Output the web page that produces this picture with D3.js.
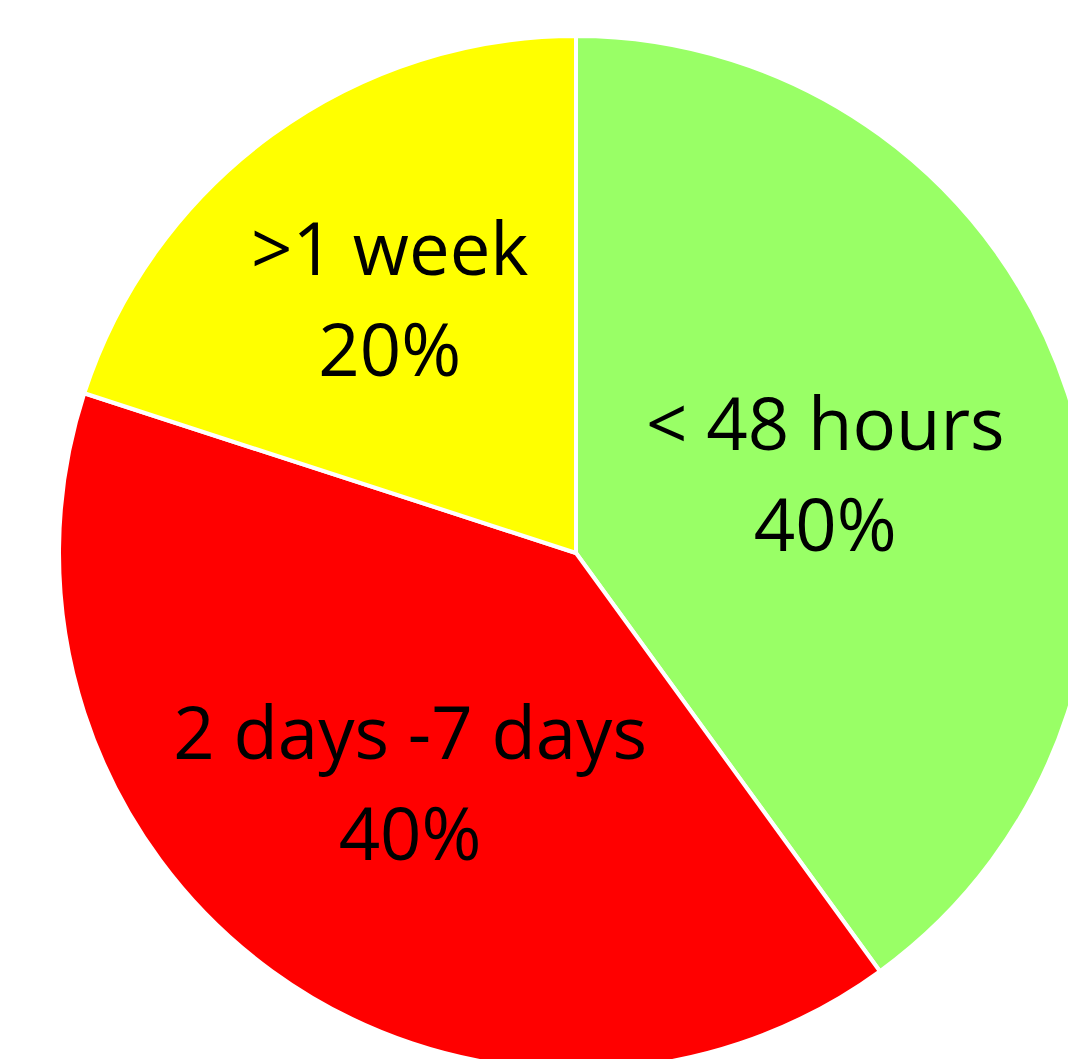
<!DOCTYPE html>
<html>
<head>
<meta charset="utf-8">
<script src="https://cdn.jsdelivr.net/npm/d3@7"></script>
<style>
  html, body { margin: 0; padding: 0; background: #fff; overflow: hidden; }
  svg { display: block; }
</style>
</head>
<body>
<div id="chart"></div>
<script>
// chart data
var categories = ["< 48 hours", "2 days -7 days", ">1 week"];
var shares = [40, 40, 20];
var colors = ["#99ff66", "#ff0000", "#ffff00"];

var svgWidth = 1068;
var svgHeight = 1059;

// pie center and radius (pie runs off the right/bottom edge)
var cx = 576, cy = 553;
var radius = 517;

// how far out each label sits (fraction of radius)
var labelFrac = [0.507, 0.546, 0.613];

var svg = d3.select("#chart")
    .append("svg")
    .attr("width", svgWidth)
    .attr("height", svgHeight);

var g = svg.append("g")
    .attr("transform", `translate(${cx}, ${cy})`);

var pie = d3.pie()
    .sort(null)
    .value(d => d.value);

var data = categories.map((c, i) => ({ name: c, value: shares[i], color: colors[i] }));
var arcs = pie(data);

var arc = d3.arc()
    .innerRadius(0)
    .outerRadius(radius);

// slices
g.selectAll("path")
    .data(arcs)
    .enter()
    .append("path")
    .attr("d", arc)
    .attr("fill", d => d.data.color)
    .attr("stroke", "#fff")
    .attr("stroke-width", 4)
    .attr("stroke-linejoin", "round");

// labels
var labels = g.selectAll("text")
    .data(arcs)
    .enter()
    .append("text")
    .attr("text-anchor", "middle")
    .attr("font-family", "'Open Sans', sans-serif")
    .attr("font-size", 72.5)
    .attr("fill", "#000")
    .attr("transform", (d, i) => {
        var r = radius * labelFrac[i];
        var c = d3.arc().innerRadius(r).outerRadius(r).centroid(d);
        return `translate(${c[0]}, ${c[1] - 22})`;
    });

labels.append("tspan")
    .attr("x", 0)
    .attr("y", 0)
    .text(d => d.data.name);

labels.append("tspan")
    .attr("x", 0)
    .attr("dy", 101)
    .text(d => d.data.value + "%");
</script>
</body>
</html>
